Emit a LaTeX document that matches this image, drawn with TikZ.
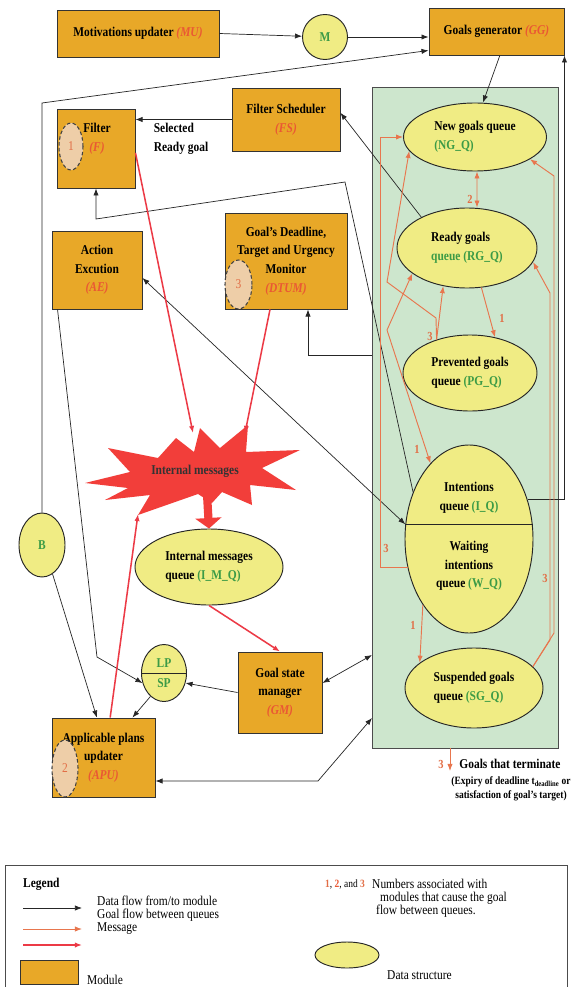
\documentclass[tikz,border=0pt]{standalone}
\usepackage{fontspec}
\setmainfont{Liberation Serif}[FakeStretch=0.85]
\usetikzlibrary{arrows.meta,shapes.geometric}

\definecolor{modorange}{RGB}{232,168,40}
\definecolor{qyellow}{RGB}{240,236,132}
\definecolor{gqgreen}{RGB}{205,230,205}
\definecolor{goalorange}{RGB}{232,118,78}
\definecolor{msgred}{RGB}{236,58,70}
\definecolor{starred}{RGB}{242,62,58}
\definecolor{labred}{RGB}{234,88,52}
\definecolor{qgreen}{RGB}{60,155,70}
\definecolor{badgefill}{RGB}{238,206,168}
\definecolor{numorange}{RGB}{226,110,70}

\newcommand{\boxfont}{\fontsize{11.5}{16}\selectfont}
\newcommand{\modlab}[1]{\textcolor{labred}{\textit{#1}}}
\newcommand{\qlab}[1]{\textcolor{qgreen}{#1}}

\tikzset{
  module/.style={draw=black!80, fill=modorange, line width=0.8pt, font=\bfseries\boxfont, align=center, inner sep=1pt},
  queue/.style={ellipse, draw=black!85, fill=qyellow, line width=0.8pt, font=\bfseries\boxfont, align=left, inner sep=0pt},
  badge/.style={ellipse, draw=black!75, dash pattern=on 3pt off 2pt, fill=badgefill, line width=0.9pt, text=numorange, inner sep=0pt, font=\boxfont},
  txt/.style={font=\bfseries\boxfont, align=center, inner sep=1pt},
  num/.style={text=numorange, font=\bfseries\fontsize{10.5}{12}\selectfont, inner sep=1pt},
  legtxt/.style={font=\fontsize{11.5}{13}\selectfont, anchor=west, inner sep=0pt},
  flow/.style={->, draw=black!85, line width=0.6pt},
  gflow/.style={->, draw=goalorange, line width=0.8pt},
  msg/.style={->, draw=msgred, line width=1.3pt}
}

\begin{document}
\begin{tikzpicture}[x=0.03cm, y=-0.03cm, >={Latex[length=6pt,width=4.5pt]}]
\fill[white] (0,0) rectangle (573,987);
\useasboundingbox (0,0) rectangle (573,987);

% area of the goal queues
\node[draw=black!70, fill=gqgreen, line width=0.8pt, minimum width=5.58cm, minimum height=19.83cm, inner sep=0pt] (gq) at (465,417.5) {};

% modules
\node[module, minimum width=4.86cm, minimum height=1.41cm] (MU) at (138,33.5) {Motivations updater \modlab{(MU)}};
\node[module, minimum width=4.05cm, minimum height=1.41cm] (GG) at (496.5,31.5) {Goals generator \modlab{(GG)}};
\node[module, minimum width=3.24cm, minimum height=1.89cm] (FS) at (286,119.5) {Filter Scheduler\\\modlab{(FS)}};
\node[module, minimum width=2.34cm, minimum height=2.37cm] (F) at (96,148.5) {};
\node[module, minimum width=2.7cm, minimum height=2.34cm] (AE) at (97,270) {Action\\Excution\\\modlab{(AE)}};
\node[module, minimum width=3.66cm, minimum height=2.88cm] (DTUM) at (286,261) {Goal's Deadline,\\Target and Urgency\\Monitor\\\modlab{(DTUM)}};
\node[module, minimum width=2.52cm, minimum height=2.43cm] (GM) at (280,692.5) {Goal state\\manager\\\modlab{(GM)}};
\node[module, minimum width=3.09cm, minimum height=2.37cm] (APU) at (103.5,757.5) {Applicable plans\\updater\\\modlab{(APU)}};
\node[badge, minimum width=0.72cm, minimum height=1.41cm] (b1) at (71,146.5) {1};
\node[badge, minimum width=0.81cm, minimum height=1.47cm] (b3) at (238.5,284.5) {3};
\node[badge, minimum width=0.78cm, minimum height=1.71cm] (b2) at (65,768.5) {2};
\node[txt] (Ftxt) at (97,139) {Filter\\\modlab{(F)}};
\node[txt, align=left] (sel) at (181,139) {Selected\\Ready goal};

% data structures
\node[queue, minimum width=1.35cm, minimum height=1.35cm] (M) at (325,37) {\qlab{M}};
\node[queue, minimum width=4.29cm, minimum height=2.04cm] (NG) at (475,137) {New goals queue\\\qlab{(NG\_Q)}};
\node[queue, minimum width=4.2cm, minimum height=2.4cm] (RG) at (467,248) {Ready goals\\\qlab{queue (RG\_Q)}};
\node[queue, minimum width=4.02cm, minimum height=2.28cm] (PG) at (470,373) {Prevented goals\\queue \qlab{(PG\_Q)}};
\node[queue, minimum width=3.84cm, minimum height=5.64cm] (IW) at (469,539) {};
\draw[black!85, line width=0.8pt] (IW.167) -- (IW.13);
\node[txt] (Itxt) at (469,498) {Intentions\\queue \qlab{(I\_Q)}};
\node[txt] (Wtxt) at (469,566) {Waiting\\intentions\\queue \qlab{(W\_Q)}};
\node[queue, minimum width=4.14cm, minimum height=2.4cm] (SG) at (474,688) {Suspended goals\\queue \qlab{(SG\_Q)}};
\node[queue, minimum width=4.44cm, minimum height=2.28cm] (IMQ) at (209,567) {Internal messages\\queue \qlab{(I\_M\_Q)}};
\node[queue, minimum width=1.38cm, minimum height=1.92cm] (B) at (42,545) {\qlab{B}};
\node[queue, minimum width=1.35cm, minimum height=1.71cm, align=center] (LPSP) at (164,673) {\qlab{LP}\\[1pt]\qlab{SP}};
\draw[black!85, line width=0.8pt] (LPSP.west) -- (LPSP.east);

% internal messages burst
\fill[starred] (85,483) -- (130,472) -- (108,448) -- (158,458) -- (176,438) -- (194,452) -- (200,428)
  -- (220,448) -- (248,425) -- (246,452) -- (300,450) -- (262,468) -- (296,490) -- (250,485)
  -- (252,505) -- (222,492) -- (212,503) -- (198,494) -- (138,515) -- (150,495) -- (105,500)
  -- (128,488) -- cycle;
\node[txt, text=black!80] (imsg) at (195,471) {Internal messages};

% bends and free ends
\coordinate (bk) at (42,103);
\coordinate (fk1) at (345,182);
\coordinate (fk2) at (96,219);
\coordinate (dq) at (372,355);
\coordinate (ak) at (97,657);
\coordinate (gmq) at (372,655);
\coordinate (apq) at (372,718);
\coordinate (apk) at (318,781);
\coordinate (st1) at (193,433);
\coordinate (st2) at (245,433);
\coordinate (st3) at (138,514);
\coordinate (st4) at (207,494);
\coordinate (pn1) at (436,318);
\coordinate (pn2) at (387,282);
\coordinate (rk) at (387,330);
\coordinate (wk) at (380,137);
\coordinate (sk1) at (550,640);
\coordinate (sk2) at (550,293);
\coordinate (sk3) at (554,633);
\coordinate (sk4) at (554,176);
\coordinate (tq) at (450,748);
\coordinate (te) at (450,771);

% data flow
\draw[flow] (MU.east) -- (M);
\draw[flow] (M) -- (M -| GG.west);
\draw[flow] (B.north) -- (bk) -- ([yshift=0.15cm]GG.south west);
\draw[flow] (IW.34) -| (GG.south east);
\draw[flow] ([xshift=0.1cm]GG.south) -- ([xshift=0.24cm]NG.north);
\draw[flow] (FS.west) -- (FS.west -| F.east);
\draw[flow] (RG.146) -- ([yshift=0.2cm]FS.east);
\draw[flow] (IW.140) -- (fk1) -- (fk2) -- (F.south);
\draw[flow] (dq) -| ([xshift=0.66cm]DTUM.south);
\draw[flow, <->] ([yshift=-0.24cm]AE.east) -- (IW.167);
\draw[flow] ([xshift=0.18cm]AE.south west) -- (ak) -- (LPSP.205);
\draw[flow] (B.-70) -- ([xshift=-0.2cm]APU.north);
\draw[flow] (LPSP.240) -- ([xshift=-0.69cm]APU.north east);
\draw[flow] (GM.west) -- (LPSP.-25);
\draw[flow, <->] ([yshift=0.285cm]GM.east) -- (gmq);
\draw[flow, <->] (apq) -- (apk) -- (apk -| APU.east);

% messages
\draw[msg] ([yshift=-0.13cm]F.east) -- (st1);
\draw[msg] ([xshift=-0.48cm]DTUM.south) -- (st2);
\draw[msg] ([xshift=0.2cm]APU.north) -- (st3);
\draw[starred, line width=7pt, -{Triangle[length=9pt,width=22pt]}] (st4) -- (IMQ.north);
\draw[msg] (IMQ.south) -- (GM.north);

% goal flow between queues
\draw[gflow, <->] ([xshift=0.06cm]NG.south) -- ([xshift=0.3cm]RG.north);
\node[num] (n2) at (470,199) {2};
\draw[gflow] (RG.-70) -- (PG.55);
\node[num] (n1a) at (502,318) {1};
\draw[gflow] (PG.135) -- (RG.-122);
\draw[gflow] (PG.135) -- (pn1) -- (pn2) -- (NG.192);
\node[num] (n3a) at (430,336) {3};
\draw[gflow] (IW.205) -| (wk) -- (NG.west);
\node[num] (n3b) at (386,548) {3};
\draw[gflow, <->] (RG.205) -- (rk) -- (IW.117);
\node[num] (n1b) at (417,449) {1};
\draw[gflow] (IW.235) -- (SG.155);
\node[num] (n1c) at (413,625) {1};
\draw[gflow] (SG.20) -- (sk1) -- (sk2) -- (RG.-12);
\draw[gflow] (SG.20) -- (sk3) -- (sk4) -- (NG.-22);
\node[num] (n3c) at (545,578) {3};
\draw[gflow] (tq) -- (te);
\node[num] (n3d) at (441,764) {3};
\node[txt, anchor=west] (term) at (458,764) {Goals that terminate};
\node[txt, anchor=north east, font=\bfseries\fontsize{9.5}{12}\selectfont] (expiry) at (572,775) {(Expiry of deadline t\textsubscript{deadline} or\\satisfaction of goal's target)};

% legend
\draw[black!70, line width=0.8pt] (5,990) -- (5,865) -- (567,865) -- (567,990);
\node[legtxt, font=\bfseries\fontsize{11.5}{13}\selectfont] (leg) at (23,884) {Legend};
\coordinate (l1a) at (23,908);
\coordinate (l1b) at (82,908);
\coordinate (l2a) at (23,929);
\coordinate (l2b) at (82,929);
\coordinate (l3a) at (23,945);
\coordinate (l3b) at (82,945);
\draw[flow] (l1a) -- (l1b);
\draw[gflow] (l2a) -- (l2b);
\draw[msg] (l3a) -- (l3b);
\node[legtxt] (lg1) at (97,901) {Data flow from/to module};
\node[legtxt] (lg2) at (97,915) {Goal flow between queues};
\node[legtxt] (lg3) at (97,929) {Message};
\node[module, minimum width=1.74cm, minimum height=0.72cm] (lgmod) at (49,972) {};
\node[legtxt] (lg4) at (87,980) {Module};
\node[legtxt, font=\fontsize{9.5}{11}\selectfont] (lgnum) at (325,884) {\textcolor{numorange}{\bfseries 1}, \textcolor{labred}{\bfseries 2}, and \textcolor{numorange}{\bfseries 3}};
\node[legtxt] (lg5) at (372,884) {Numbers associated with};
\node[legtxt] (lg6) at (380,898) {modules that cause the goal};
\node[legtxt] (lg7) at (376,911) {flow between queues.};
\node[queue, minimum width=1.92cm, minimum height=0.78cm] (lgq) at (347,955) {};
\node[legtxt] (lg8) at (387,975) {Data structure};
\end{tikzpicture}
\end{document}
